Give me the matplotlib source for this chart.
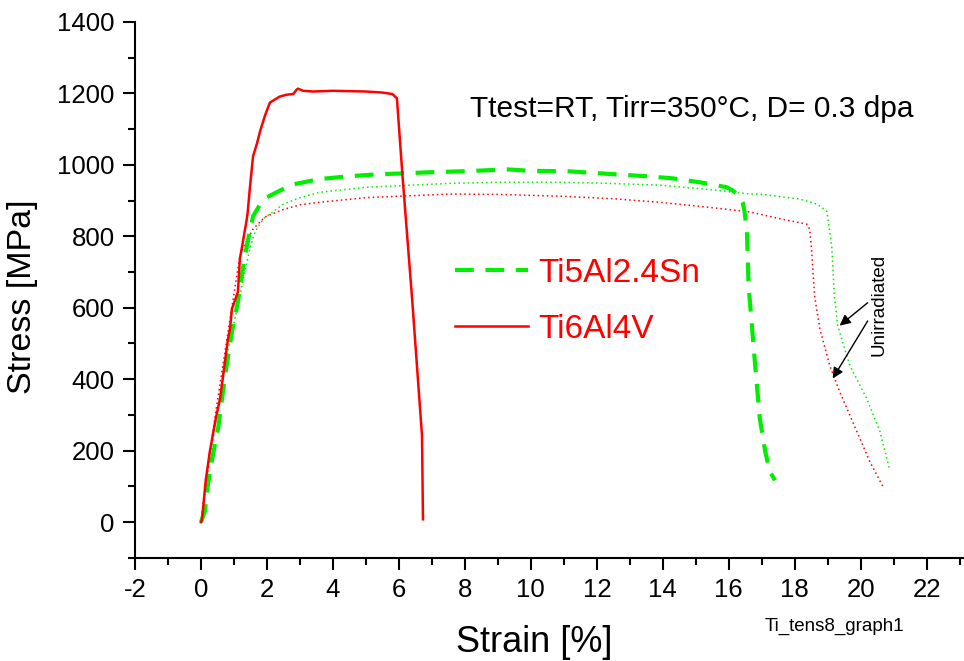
import matplotlib.pyplot as plt
from matplotlib.ticker import MultipleLocator

plt.rcParams['font.family'] = ['Liberation Sans', 'DejaVu Sans']
plt.rcParams['axes.unicode_minus'] = False

# Ti6Al4V irradiated (red solid)
ti64_strain = [0, 0.03, 0.15, 0.27, 0.45, 0.58, 0.82, 0.88, 0.94, 1.12, 1.18, 1.39, 1.42,
               1.48, 1.58, 1.7, 1.79, 1.95, 2.09, 2.25, 2.39, 2.6, 2.8, 2.9, 2.94, 3.1,
               3.4, 4.0, 4.5, 5.0, 5.5, 5.8, 5.94, 6.11, 6.4, 6.70, 6.73]
ti64_stress = [0, 6, 120, 198, 290, 346, 513, 541, 597, 644, 736, 848, 870,
               932, 1024, 1060, 1093, 1140, 1174, 1183, 1191, 1196, 1198, 1210, 1213, 1207,
               1205, 1207, 1206, 1205, 1202, 1198, 1186, 968, 626, 243, 8]

# Ti5Al2.4Sn irradiated (green dashed)
ti5_strain = [0, 0.12, 0.21, 0.36, 0.52, 0.64, 0.73, 0.94, 1.12, 1.27, 1.39, 1.58, 1.8,
              2.0, 2.4, 2.79, 3.6, 4.5, 5.3, 6.94, 8.0, 9.3, 10.0, 11.09, 12.6, 13.5,
              14.3, 15.12, 15.94, 16.1, 16.3, 16.42, 16.48, 16.55, 16.6, 16.7, 16.8,
              16.94, 17.1, 17.24, 17.4]
ti5_stress = [0, 31, 103, 187, 262, 346, 410, 533, 616, 708, 773, 856, 890,
              909, 928, 945, 960, 968, 973, 979, 982, 987, 983, 982, 973, 968,
              962, 951, 937, 929, 915, 895, 867, 812, 661, 550, 438,
              290, 200, 142, 117]

# unirradiated Ti5Al2.4Sn (green dotted)
ti5_unirr_strain = [0, 0.2, 0.5, 0.8, 1.1, 1.24, 1.48, 1.64, 1.9, 2.18, 2.5, 3.0, 3.6,
                    5.0, 7.55, 9.0, 10.9, 12.0, 13.9, 15.5, 16.64, 16.94, 18.15, 18.67,
                    18.97, 19.12, 19.2, 19.3, 19.67, 20.18, 20.58, 20.88]
ti5_unirr_stress = [0, 130, 310, 470, 600, 661, 764, 812, 850, 868, 890, 908, 923,
                    937, 948, 951, 951, 949, 943, 930, 918, 918, 904, 890,
                    870, 773, 633, 550, 438, 346, 254, 145]

# unirradiated Ti6Al4V (red dotted)
ti64_unirr_strain = [0, 0.2, 0.5, 0.8, 1.18, 1.4, 1.58, 1.94, 2.5, 3.0, 3.6, 5.0, 7.55,
                     9.0, 10.9, 12.5, 13.9, 15.5, 16.64, 17.6, 18.36, 18.45, 18.5, 18.6,
                     18.76, 19.06, 19.36, 19.88, 20.27, 20.67]
ti64_unirr_stress = [0, 150, 340, 520, 745, 790, 820, 854, 875, 888, 895, 908, 918,
                     917, 912, 905, 895, 880, 868, 848, 834, 820, 773, 633,
                     541, 438, 365, 254, 170, 100]

GREEN = '#00ee00'
RED = '#ff0000'

fig = plt.figure(figsize=(9.64, 6.61), dpi=100)
ax = fig.add_axes([0.140, 0.156, 0.859, 0.811])

ax.plot(ti5_unirr_strain, ti5_unirr_stress, color=GREEN, lw=1.1, ls=(0, (1, 2)))
ax.plot(ti64_unirr_strain, ti64_unirr_stress, color=RED, lw=1.1, ls=(0, (1, 2)))
l1, = ax.plot(ti5_strain, ti5_stress, color=GREEN, lw=3, ls=(0, (4.5, 2.8)),
              label='Ti5Al2.4Sn')
l2, = ax.plot(ti64_strain, ti64_stress, color=RED, lw=1.8, label='Ti6Al4V')

ax.set_xlim(-2, 23.1)
ax.set_ylim(-100, 1400)
ax.xaxis.set_major_locator(MultipleLocator(2))
ax.xaxis.set_minor_locator(MultipleLocator(1))
ax.yaxis.set_major_locator(MultipleLocator(200))
ax.yaxis.set_minor_locator(MultipleLocator(100))
ax.spines['top'].set_visible(False)
ax.spines['right'].set_visible(False)
for s in ['left', 'bottom']:
    ax.spines[s].set_linewidth(1.5)
ax.tick_params(which='major', direction='out', length=8.5, width=1.5, labelsize=18.5, pad=6)
ax.tick_params(which='minor', direction='out', length=5, width=1.5)

ax.set_ylabel('Stress [MPa]', fontsize=24.5)
ax.yaxis.set_label_coords(-0.117, 0.487)
ax.set_xlabel('Strain [%]', fontsize=26, va='top')
ax.xaxis.set_label_coords(0.482, -0.125)

ax.text(0.405, 0.838, 'Ttest=RT, Tirr=350°C, D= 0.3 dpa', transform=ax.transAxes,
        fontsize=21.5, ha='left', va='center')

ax.legend(handles=[l1, l2], loc='center left', bbox_to_anchor=(455 / 964, 1 - 301 / 661),
          bbox_transform=fig.transFigure, frameon=False, fontsize=24, labelcolor=RED,
          handlelength=2.2, handletextpad=0.3, labelspacing=0.75, borderpad=0,
          borderaxespad=0)

ax.text(20.55, 608, 'Unirradiated', rotation=90, fontsize=13.5, ha='center', va='center')
arrow = dict(arrowstyle='-|>', color='k', lw=1, mutation_scale=16, shrinkA=0, shrinkB=0)
ax.annotate('', xy=(19.36, 550), xytext=(20.21, 614), arrowprops=arrow)
ax.annotate('', xy=(19.15, 402), xytext=(20.21, 563), arrowprops=arrow)

fig.text(0.866, 0.053, 'Ti_tens8_graph1', fontsize=13.5, ha='center', va='center')

fig.savefig('out.png', dpi=100)
